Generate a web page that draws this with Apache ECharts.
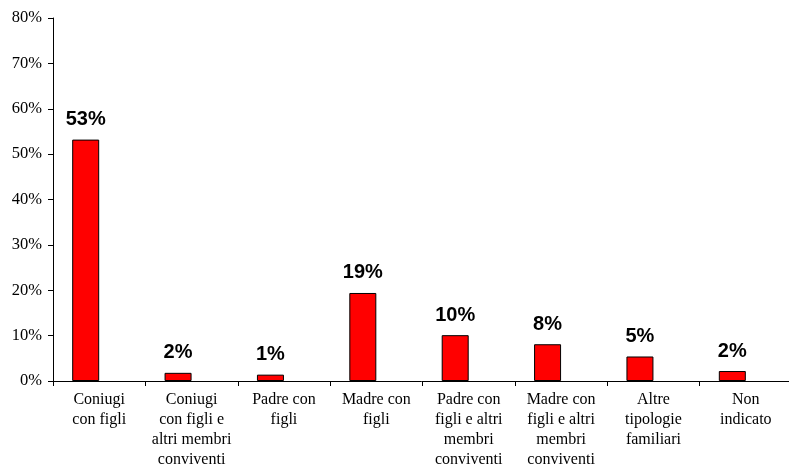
<!DOCTYPE html>
<html>
<head>
<meta charset="utf-8">
<script src="https://cdn.jsdelivr.net/npm/echarts@6/dist/echarts.min.js"></script>
<style>
html,body{margin:0;padding:0;background:#fff;}
#chart{width:789px;height:465px;}
</style>
</head>
<body>
<div id="chart"></div>
<script>
const categories = [
  "Coniugi\ncon figli",
  "Coniugi\ncon figli e\naltri membri\nconviventi",
  "Padre con\nfigli",
  "Madre con\nfigli",
  "Padre con\nfigli e altri\nmembri\nconviventi",
  "Madre con\nfigli e altri\nmembri\nconviventi",
  "Altre\ntipologie\nfamiliari",
  "Non\nindicato"
];
const values = [53.2, 1.8, 1.4, 19.4, 10.1, 8.1, 5.4, 2.2];
const valueLabels = ["53%", "2%", "1%", "19%", "10%", "8%", "5%", "2%"];
const emptySeries = [null, null, null, null, null, null, null, null];
const yTicks = { min: 0, max: 80, interval: 10 };

const chart = echarts.init(document.getElementById('chart'), null, { renderer: 'canvas' });
chart.setOption({
  animation: false,
  backgroundColor: '#ffffff',
  grid: { left: 53, right: -3, top: 18, bottom: 84, containLabel: false, outerBoundsMode: 'none' },
  xAxis: {
    type: 'category',
    data: categories,
    boundaryGap: true,
    axisLine: { show: true, lineStyle: { color: '#000', width: 1 } },
    axisTick: { show: true, length: 5, lineStyle: { color: '#000' } },
    axisLabel: {
      interval: 0,
      margin: 9,
      color: '#000',
      fontFamily: '"Liberation Serif", "Times New Roman", serif',
      fontSize: 16,
      lineHeight: 20,
      align: 'center'
    },
    splitLine: { show: false }
  },
  yAxis: {
    type: 'value',
    min: yTicks.min,
    max: yTicks.max,
    interval: yTicks.interval,
    axisLine: { show: true, lineStyle: { color: '#000', width: 1 } },
    axisTick: { show: true, length: 5, lineStyle: { color: '#000' } },
    axisLabel: {
      formatter: v => v + '%',
      color: '#000',
      fontFamily: '"Liberation Serif", "Times New Roman", serif',
      fontSize: 16.5,
      margin: 11
    },
    splitLine: { show: false }
  },
  series: [
    {
      type: 'bar',
      data: values,
      barWidth: 27,
      barGap: '0%',
      itemStyle: { color: '#ff0000', borderColor: '#000', borderWidth: 1 },
      label: {
        show: true,
        position: 'top',
        distance: 10,
        formatter: p => valueLabels[p.dataIndex],
        color: '#000',
        fontFamily: '"Liberation Sans", Arial, sans-serif',
        fontWeight: 'bold',
        fontSize: 20
      }
    },
    {
      type: 'bar',
      data: emptySeries,
      barWidth: 27,
      itemStyle: { color: 'transparent' }
    }
  ]
});
</script>
</body>
</html>
